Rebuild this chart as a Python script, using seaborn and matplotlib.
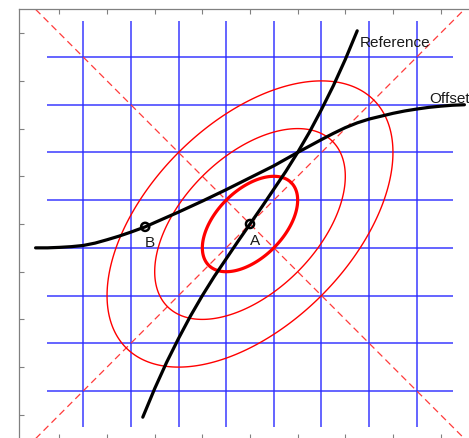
import numpy as np
import matplotlib
matplotlib.use("Agg")
import matplotlib.pyplot as plt
import seaborn as sns

sns.set_theme(style="white")
plt.rcParams["font.family"] = ["Liberation Sans", "DejaVu Sans"]

# Reference curve through A
ref_x = [-2.25, -2.0, -1.75, -1.5, -1.25, -1.0, -0.75, -0.5, -0.25, 0.0,
         0.25, 0.5, 0.75, 1.0, 1.25, 1.5, 1.75, 2.0, 2.25]
ref_y = [-4.05, -3.45, -2.90, -2.40, -1.93, -1.50, -1.10, -0.73, -0.36, 0.0,
         0.36, 0.73, 1.10, 1.50, 1.93, 2.40, 2.90, 3.45, 4.05]

# Offset curve through B
off_x = [-4.5, -4.25, -4.0, -3.75, -3.5, -3.25, -3.0, -2.75, -2.5, -2.2, -2.0,
         -1.5, -1.0, -0.5, 0.0, 0.5, 1.0, 1.5, 1.75, 2.0, 2.25, 2.5, 2.75,
         3.0, 3.25, 3.5, 3.75, 4.0, 4.25, 4.5]
off_y = [-0.50, -0.50, -0.49, -0.475, -0.45, -0.40, -0.33, -0.255, -0.17, -0.06, 0.03,
         0.25, 0.48, 0.72, 0.97, 1.22, 1.50, 1.77, 1.90, 2.02, 2.12, 2.20, 2.26,
         2.32, 2.37, 2.41, 2.445, 2.47, 2.49, 2.50]

# Marked points
point_names = ["A", "B"]
point_x = [0.0, -2.2]
point_y = [0.0, -0.06]

# Correlated Gaussian contours (Mahalanobis radii)
rho = 0.5
radii = [1, 2, 3]
radius_widths = [2.3, 1.0, 1.0]

# Grid and ticks
grid_pos = [-3.5, -2.5, -1.5, -0.5, 0.5, 1.5, 2.5, 3.5]
grid_extent = 4.25
tick_pos = [-4, -3, -2, -1, 0, 1, 2, 3, 4]

W, H = 469, 439
fig = plt.figure(figsize=(W / 100, H / 100), dpi=100)
ax = fig.add_axes([19 / W, -0.65 / H, 462 / W, 429.3 / H])
ax.set_xlim(-4.848, 4.848)
ax.set_ylim(-4.5, 4.5)

# blue grid
ax.vlines(grid_pos, -grid_extent, grid_extent, color="#2b2bff", lw=1.2, alpha=0.85, zorder=1)
ax.hlines(grid_pos, -grid_extent, grid_extent, color="#2b2bff", lw=1.2, alpha=0.85, zorder=1)

# dashed diagonals
ax.plot([-4.5, 4.5], [4.5, -4.5], color="#ff3b3b", lw=0.9, dashes=(5.5, 3.5), zorder=2)
ax.plot([-4.5, 4.5], [-4.5, 4.5], color="#ff3b3b", lw=0.9, dashes=(5.5, 3.5), zorder=2)

# ellipses
gx = np.linspace(-4.6, 4.6, 600)
XX, YY = np.meshgrid(gx, gx)
Q = (XX ** 2 - 2 * rho * XX * YY + YY ** 2) / (1 - rho ** 2)
ax.contour(XX, YY, Q, levels=[r ** 2 for r in radii], colors="red",
           linewidths=radius_widths, zorder=3)

# curves
sns.lineplot(x=ref_x, y=ref_y, sort=False, estimator=None, color="black", lw=2.3, ax=ax, zorder=4)
sns.lineplot(x=off_x, y=off_y, sort=False, estimator=None, color="black", lw=2.3, ax=ax, zorder=4)

# points
ax.scatter(point_x, point_y, s=34, facecolors="none", edgecolors="black", linewidths=1.8, zorder=5)

txt = dict(fontsize=11, color="#1a1a1a", va="baseline", ha="left")
ax.text(2.31, 3.73, "Reference", **txt)
ax.text(3.76, 2.56, "Offset", **txt)
ax.text(0.0, -0.42, point_names[0], **txt)
ax.text(-2.2, -0.46, point_names[1], **txt)

ax.set_xticks(tick_pos)
ax.set_yticks(tick_pos)
ax.tick_params(direction="in", length=3.6, width=0.8, color="#808080",
               top=True, bottom=True, left=True, right=True,
               labelbottom=False, labelleft=False)
for side in ["top", "left"]:
    ax.spines[side].set_color("#808080")
    ax.spines[side].set_linewidth(0.9)
for side in ["bottom", "right"]:
    ax.spines[side].set_visible(False)

fig.savefig("out.png", dpi=100)
